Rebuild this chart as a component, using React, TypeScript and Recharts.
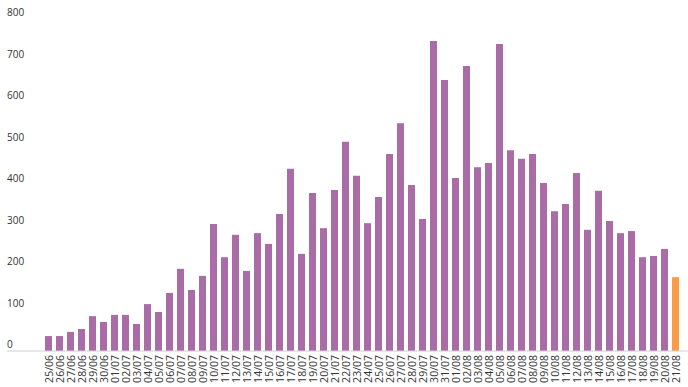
import React from "react";
import { BarChart, Bar, XAxis, YAxis, Cell } from "recharts";

const dates = [
  "25/06","26/06","27/06","28/06","29/06","30/06",
  "01/07","02/07","03/07","04/07","05/07","06/07","07/07","08/07","09/07","10/07",
  "11/07","12/07","13/07","14/07","15/07","16/07","17/07","18/07","19/07","20/07",
  "21/07","22/07","23/07","24/07","25/07","26/07","27/07","28/07","29/07","30/07","31/07",
  "01/08","02/08","03/08","04/08","05/08","06/08","07/08","08/08","09/08","10/08",
  "11/08","12/08","13/08","14/08","15/08","16/08","17/08","18/08","19/08","20/08","21/08",
];

const cases = [
  36, 36, 46, 53, 84, 70,
  87, 87, 65, 113, 94, 140, 198, 147, 181, 306,
  226, 280, 193, 284, 258, 330, 439, 234, 381, 296,
  388, 504, 422, 308, 371, 475, 549, 400, 318, 747, 653,
  417, 687, 443, 453, 740, 484, 463, 475, 405, 337,
  354, 429, 292, 386, 313, 284, 289, 226, 229, 246, 178,
];

const yTicks = [0, 100, 200, 300, 400, 500, 600, 700, 800];

const PURPLE = "#a96ca6";
const ORANGE = "#fa9c47";

const data = dates.map((d, i) => ({ date: d, value: cases[i] }));

const YTick = (props: any) => {
  const { y, payload } = props;
  return (
    <text x={7} y={y - 3} textAnchor="start" fontSize={10} fill="#333" fontFamily="'Open Sans', sans-serif">
      {payload.value}
    </text>
  );
};

const XTick = (props: any) => {
  const { x, y, payload } = props;
  return (
    <g transform={`translate(${x},${y - 4})`}>
      <text
        x={0}
        y={0}
        dy={4}
        transform="rotate(-90)"
        textAnchor="end"
        fontSize={10.5}
        fill="#333"
        fontFamily="'Open Sans', sans-serif"
      >
        {payload.value}
      </text>
    </g>
  );
};

export default function App() {
  return (
    <BarChart
      width={688}
      height={387}
      data={data}
      margin={{ top: 19, right: 0, bottom: 0, left: 0 }}
      barSize={7}
      style={{ position: "absolute", left: 0, top: 0 }}
    >
      <XAxis
        dataKey="date"
        interval={0}
        tick={<XTick />}
        tickLine={false}
        axisLine={{ stroke: "#d0d0d0" }}
        height={36}
        padding={{ left: 36, right: 7 }}
      />
      <YAxis
        domain={[0, 800]}
        ticks={yTicks}
        width={7}
        axisLine={false}
        tickLine={false}
        tick={<YTick />}
        interval={0}
      />
      <Bar dataKey="value" isAnimationActive={false}>
        {data.map((d, i) => (
          <Cell key={d.date} fill={i === data.length - 1 ? ORANGE : PURPLE} />
        ))}
      </Bar>
    </BarChart>
  );
}
